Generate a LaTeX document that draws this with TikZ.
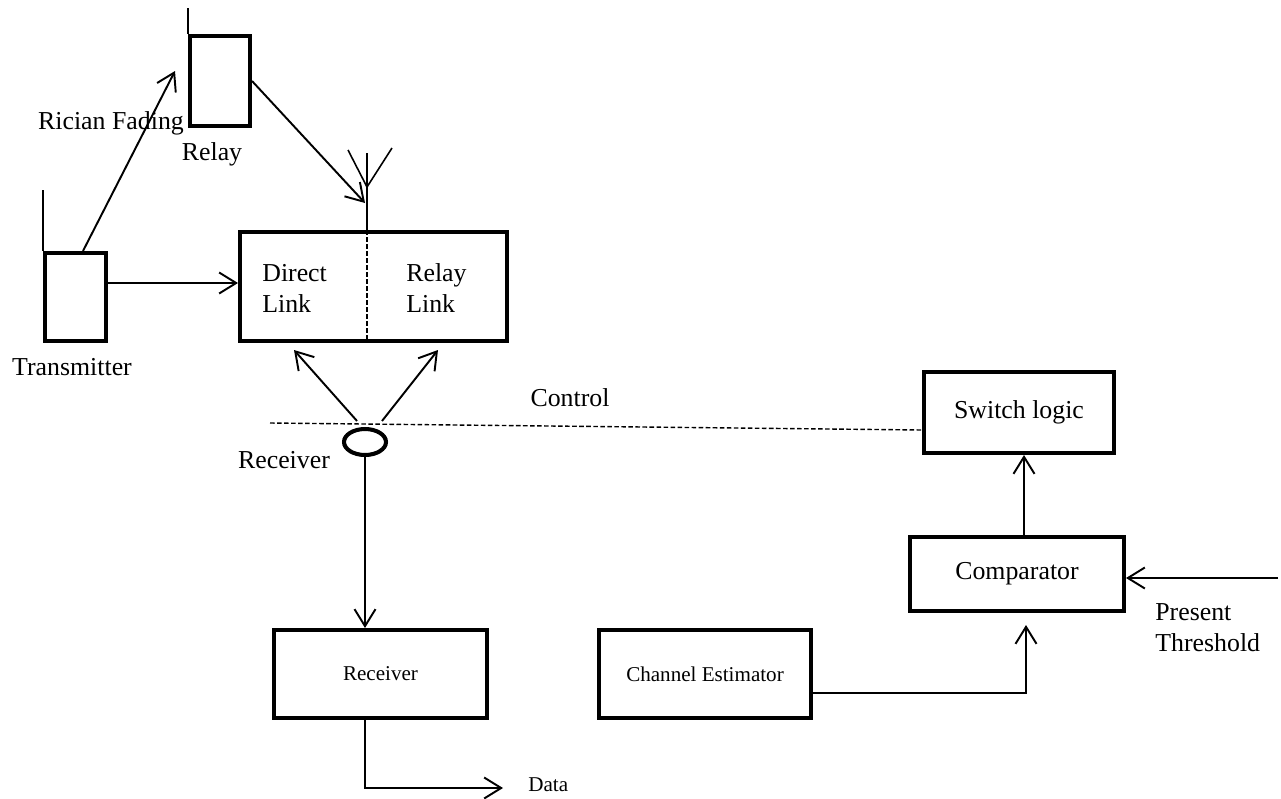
\documentclass[tikz,border=0pt]{standalone}
\usepackage{fontspec}
\setmainfont{Liberation Serif}
\usepackage{tikz}
\usetikzlibrary{positioning,arrows.meta,shapes.geometric}

\begin{document}
\begin{tikzpicture}[x=0.02cm,y=-0.02cm,
  blk/.style={draw,line width=2.3pt,inner sep=0pt,font=\fontsize{14.7}{17.6}\selectfont},
  lbl/.style={inner sep=0pt,font=\fontsize{14.7}{17.6}\selectfont},
  small/.style={font=\fontsize{12}{14}\selectfont},
  arr/.style={line width=1.1pt,-{Straight Barb[length=0.34cm,width=0.42cm,line width=1.1pt]}},
  ant/.style={line width=0.9pt},
  ctrl/.style={line width=0.8pt,dash pattern=on 2.6pt off 1.4pt}]
\useasboundingbox (0,0) rectangle (1281,798);

\node[blk,minimum width=1.2cm,minimum height=1.8cm] (relay) at (220,81) {};
\node[blk,minimum width=1.22cm,minimum height=1.76cm] (tx) at (75.5,297) {};
\node[blk,minimum width=5.34cm,minimum height=2.18cm] (link) at (373.5,286.5) {};
\node[lbl,align=left,anchor=west] (direct) at (262,288) {Direct\\Link};
\node[lbl,align=left,anchor=west] (rlink) at (406,288) {Relay\\Link};
\node[draw,ellipse,line width=2.3pt,inner sep=0pt,minimum width=0.84cm,minimum height=0.52cm] (rx) at (365,442) {};
\node[blk,small,minimum width=4.26cm,minimum height=1.76cm] (rxbox) at (380.5,674) {Receiver};
\node[blk,small,minimum width=4.24cm,minimum height=1.76cm] (est) at (705,674) {Channel Estimator};
\node[blk,minimum width=4.28cm,minimum height=1.48cm] (cmp) at (1017,574) {Comparator};
\node[blk,minimum width=3.8cm,minimum height=1.62cm] (sw) at (1019,412.5) {Switch logic};

\node[lbl] (fade) at (111,123) {Rician Fading};
\node[lbl] (rlbl) at (212,154) {Relay};
\node[lbl] (tlbl) at (72,367) {Transmitter};
\node[lbl] (rxlbl) at (284,460) {Receiver};
\node[lbl] (ctl) at (570,398) {Control};
\node[lbl,align=left,anchor=west] (thr) at (1155,628) {Present\\Threshold};
\node[lbl,small,anchor=west] (data) at (528,785) {Data};

\coordinate (mastTop) at (367,153);
\coordinate (mastV) at (367,187);
\coordinate (mastTip) at (365,203);
\coordinate (armL) at (348,150);
\coordinate (armR) at (392,148);
\coordinate (fadeTip) at (175,71);
\coordinate (dTip) at (294,350);
\coordinate (rTip) at (438,350);
\coordinate (ctlL) at (270,423);
\coordinate (dataEnd) at (503,788);
\coordinate (cmpIn) at (1026,625);
\coordinate (thrIn) at (1278,578);

\draw[ant] (relay.north west) -- ++(0,-26);
\draw[ant] (tx.north west) -- ++(0,-61);
\draw[ant] (mastTop) -- (mastTop |- link.north);
\draw[ant] (armL) -- (mastV) -- (armR);
\draw[ctrl] (mastTop |- link.north) -- (mastTop |- link.south);

\draw[arr] ([xshift=0.15cm]tx.north) -- (fadeTip);
\draw[arr] (relay.east) -- (mastTip);
\draw[arr] ([yshift=0.28cm]tx.east) -- ([yshift=0.28cm]tx.east -| link.west);
\draw[arr] ([shift={(-8,-6)}]rx.north) -- (dTip);
\draw[arr] ([shift={(17,-6)}]rx.north) -- (rTip);
\draw[ctrl] (ctlL) -- ([yshift=-0.35cm]sw.west);
\draw[arr] (rx.south) -- (rx.south |- rxbox.north);
\draw[arr] (rx.south |- rxbox.south) -- (rx.south |- dataEnd) -- (dataEnd);
\draw[arr] ([yshift=-0.38cm]est.east) -| (cmpIn);
\draw[arr] ([xshift=0.14cm]cmp.north) -- ([xshift=0.14cm]cmp.north |- sw.south);
\draw[arr] (thrIn) -- (thrIn -| cmp.east);

\end{tikzpicture}
\end{document}
